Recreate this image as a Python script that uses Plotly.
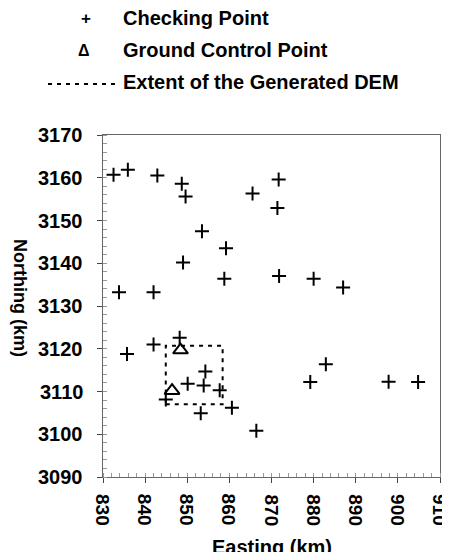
import plotly.graph_objects as go

# Checking points (Easting km, Northing km)
check_e = [832.5, 835.9, 842.9, 848.7, 849.6, 865.5, 871.7, 871.4, 853.5, 859.2,
           849.0, 858.8, 871.8, 880.0, 887.0, 833.8, 842.0, 835.7, 842.0, 848.2,
           844.9, 850.1, 854.3, 853.9, 857.7, 853.2, 860.6, 866.4, 882.9, 879.2,
           897.8, 904.8]
check_n = [3160.7, 3161.9, 3160.5, 3158.6, 3155.6, 3156.3, 3159.6, 3152.9, 3147.5, 3143.5,
           3140.2, 3136.4, 3137.0, 3136.4, 3134.3, 3133.2, 3133.2, 3118.8, 3121.0, 3122.6,
           3108.1, 3111.8, 3114.7, 3111.4, 3110.3, 3104.9, 3106.2, 3100.8, 3116.4, 3112.2,
           3112.3, 3112.2]

# Ground control points
gcp_e = [848.4, 846.4]
gcp_n = [3119.7, 3110.2]

# Extent of the generated DEM (min/max easting, min/max northing)
dem_e = [844.9, 858.4]
dem_n = [3107.0, 3120.7]

x_ticks = [830, 840, 850, 860, 870, 880, 890, 900, 910]
y_ticks = [3090, 3100, 3110, 3120, 3130, 3140, 3150, 3160, 3170]

legend_labels = ["Checking Point", "Ground Control Point", "Extent of the Generated DEM"]

FONT = "Liberation Sans"
fig = go.Figure()

box_x = [dem_e[0], dem_e[1], dem_e[1], dem_e[0], dem_e[0]]
box_y = [dem_n[0], dem_n[0], dem_n[1], dem_n[1], dem_n[0]]
fig.add_trace(go.Scatter(x=box_x, y=box_y, mode="lines",
                         line=dict(color="black", width=2, dash="4px,5px"),
                         showlegend=False, hoverinfo="skip"))
fig.add_trace(go.Scatter(x=check_e, y=check_n, mode="markers",
                         marker=dict(symbol="cross-thin", size=10, color="black",
                                     line=dict(color="black", width=2)),
                         showlegend=False))
fig.add_trace(go.Scatter(x=gcp_e, y=gcp_n, mode="markers",
                         marker=dict(symbol="triangle-up-open", size=13, color="black",
                                     line=dict(color="black", width=2)),
                         showlegend=False))

# page body has an 8px margin on every side; work in page pixels
OFF = 8
PW, PH = 450, 560
W, H = PW - OFF, PH - 2 * OFF          # figure size (fits without scrollbars)
P_LEFT, P_RIGHT, P_TOP, P_BOT = 103, 440, 135, 477   # plot area in page pixels
L = P_LEFT - OFF
R = (OFF + W) - P_RIGHT
T = P_TOP - OFF
B = (OFF + H) - P_BOT
pw, ph = P_RIGHT - P_LEFT, P_BOT - P_TOP

def px(xp):
    return (xp - P_LEFT) / pw

def py(yp):
    return (P_BOT - yp) / ph

axis_common = dict(showgrid=False, zeroline=False, showline=True, linecolor="#666",
                   linewidth=1, mirror=True, ticks="outside", ticklen=5,
                   tickcolor="#444", tickwidth=1, automargin=False,
                   showticklabels=False,
                   minor=dict(ticks="inside", ticklen=4, tickcolor="#999", dtick=2))

fig.update_xaxes(range=[830, 910], tickvals=x_ticks, **axis_common)
fig.update_yaxes(range=[3090, 3170], tickvals=y_ticks, **axis_common)

lf = dict(family=FONT, size=20, color="black", weight="bold")
tkf = dict(family=FONT, size=19, color="black", weight="bold")
ann = []
# tick labels, placed on the data scale
for v in x_ticks:
    ann.append(dict(text=str(v), x=v, xref="x", y=py(510), yref="paper", textangle=90,
                    showarrow=False, font=tkf, xanchor="center", yanchor="middle"))
for v in y_ticks:
    ann.append(dict(text=str(v), x=px(85), xref="paper", y=v, yref="y",
                    showarrow=False, font=dict(family=FONT, size=20, color="black", weight="bold"),
                    xanchor="right", yanchor="middle"))
ann.append(dict(text="Northing (km)", textangle=90, x=px(20), y=py(298), xref="paper", yref="paper",
                showarrow=False, font=dict(family=FONT, size=18, color="black", weight="bold"),
                xanchor="center", yanchor="middle"))
ann.append(dict(text="Easting (km)", x=0.5, y=py(547), xref="paper", yref="paper",
                showarrow=False, font=lf, xanchor="center", yanchor="middle"))
rows = [18, 50, 82]
for lab, r in zip(legend_labels, rows):
    ann.append(dict(text=lab, x=px(121), y=py(r), xref="paper", yref="paper",
                    showarrow=False, font=lf, xanchor="left", yanchor="middle"))
ann.append(dict(text="+", x=px(86), y=py(rows[0]), xref="paper", yref="paper",
                showarrow=False, font=dict(family=FONT, size=17, color="black", weight="bold"),
                xanchor="center", yanchor="middle"))
ann.append(dict(text="Δ", x=px(84), y=py(rows[1]), xref="paper", yref="paper",
                showarrow=False, font=dict(family=FONT, size=16, color="black", weight="bold"),
                xanchor="center", yanchor="middle"))

shapes = [dict(type="line", xref="paper", yref="paper", x0=px(48), x1=px(119),
               y0=py(84), y1=py(84), line=dict(color="black", width=2, dash="4px,5px"))]

fig.update_layout(width=W, height=H, margin=dict(l=L, r=R, t=T, b=B),
                  plot_bgcolor="white", paper_bgcolor="white",
                  annotations=ann, shapes=shapes, showlegend=False)

fig.write_html("out.html")
